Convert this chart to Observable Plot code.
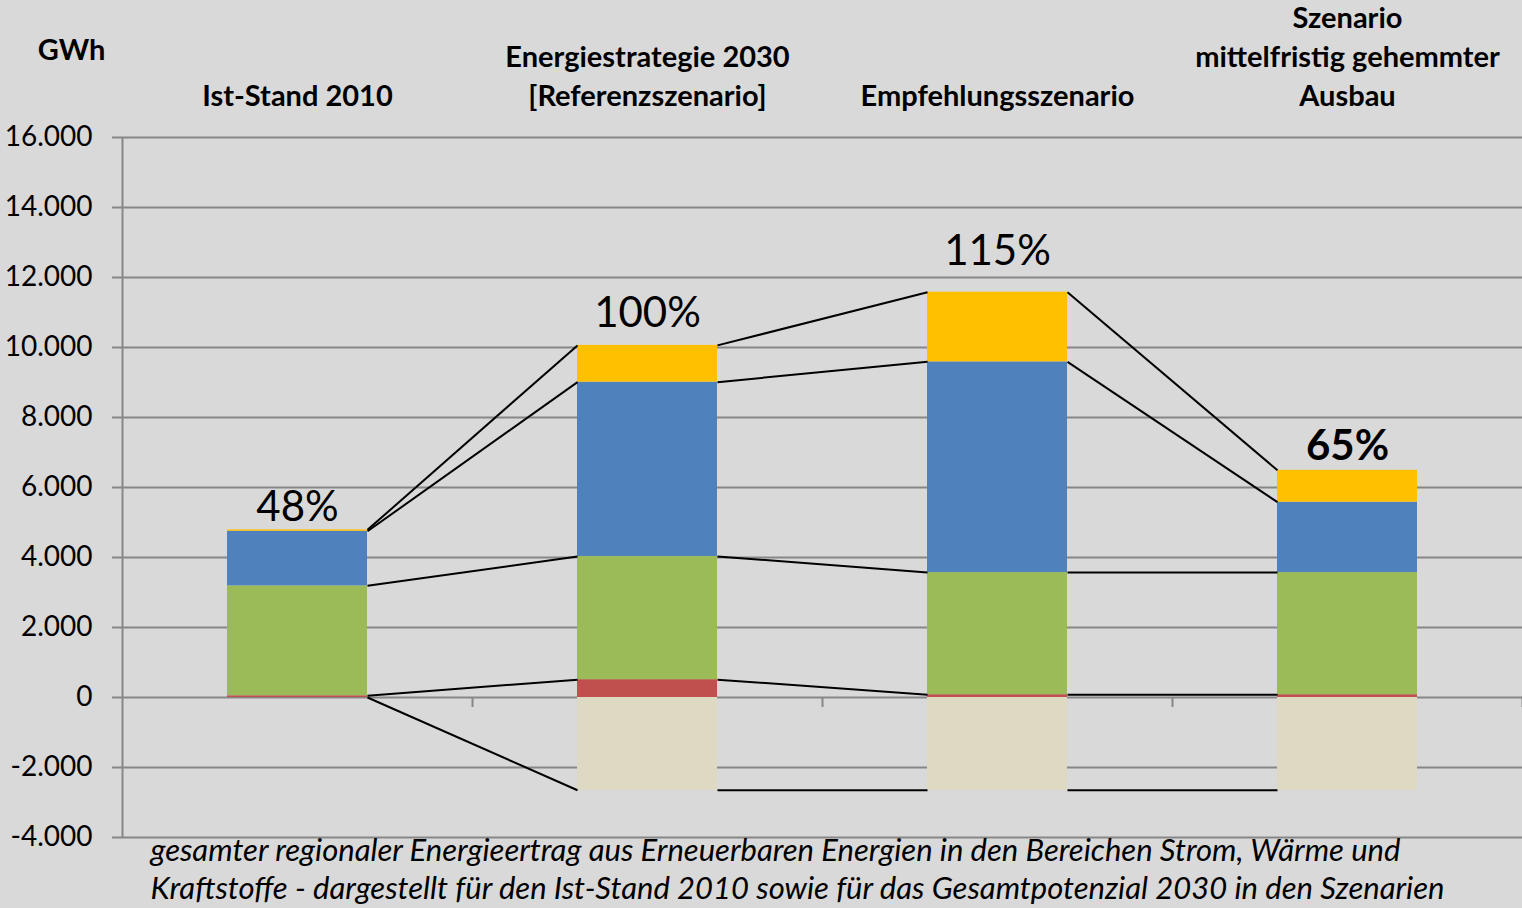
<!DOCTYPE html>
<html><head><meta charset="utf-8">
<script src="https://cdn.jsdelivr.net/npm/d3@7"></script>
<script src="https://cdn.jsdelivr.net/npm/@observablehq/plot@0.6"></script>
<style>
html,body{margin:0;padding:0;background:#d9d9d9;overflow:hidden;}
</style></head><body><div id="chart"></div>
<script>
// ---- data (GWh) ----
const categories = ["Ist-Stand 2010", "Energiestrategie 2030\n[Referenzszenario]", "Empfehlungsszenario", "Szenario\nmittelfristig gehemmter\nAusbau"];
const seriesNames = ["Rot", "Grün", "Blau", "Gelb"];
const redValues = [50, 510, 80, 80];
const greenValues = [3140, 3520, 3490, 3490];
const blueValues = [1560, 4980, 6020, 2010];
const yellowValues = [40, 1050, 1990, 910];
const negativeValues = [0, -2650, -2650, -2650];
const percentLabels = ["48%", "100%", "115%", "65%"];
const yTicks = [-4000, -2000, 0, 2000, 4000, 6000, 8000, 10000, 12000, 14000, 16000];
const unitLabel = "GWh";
const caption = "gesamter regionaler Energieertrag aus Erneuerbaren Energien in den Bereichen Strom, Wärme und\nKraftstoffe - dargestellt für den Ist-Stand 2010 sowie für das Gesamtpotenzial 2030 in den Szenarien";

// ---- styles ----
const colors = {"Rot": "#C0504D", "Grün": "#9BBB59", "Blau": "#4F81BD", "Gelb": "#FFC000", "Negativ": "#DDD9C3"};
const gridColor = "#878787";
const font = "Lato";
const half = 0.2; // half bar width in band units
const pctDy = [-9, -18, -27, -10];

// ---- build stacks ----
const positive = [redValues, greenValues, blueValues, yellowValues];
const rows = [];
const levels = categories.map(() => []);
categories.forEach((c, i) => {
  let base = 0;
  levels[i].push(negativeValues[i]);
  positive.forEach((vals, k) => {
    rows.push({i, series: seriesNames[k], y1: base, y2: base + vals[i]});
    base += vals[i];
    levels[i].push(base);
  });
  if (negativeValues[i] !== 0) rows.push({i, series: "Negativ", y1: negativeValues[i], y2: 0});
});
const links = [];
for (let i = 0; i < categories.length - 1; i++) {
  for (let k = 0; k < levels[i].length; k++) {
    links.push({x1: i + half, x2: i + 1 - half, y1: levels[i][k], y2: levels[i + 1][k]});
  }
}
const labelRows = categories.map((c, i) => ({i, c, top: levels[i][levels[i].length - 1], pct: percentLabels[i]}));

const de = d3.formatLocale({decimal: ",", thousands: ".", grouping: [3], currency: ["", " €"], minus: "-"});
const fmt = de.format(",");

const plot = Plot.plot({
  width: 1522,
  height: 908,
  marginTop: 137,
  marginBottom: 71,
  marginLeft: 122,
  marginRight: 0,
  style: {background: "#d9d9d9", fontFamily: font, color: "black"},
  x: {domain: [-0.5, 3.5], axis: null},
  y: {domain: [-4000, 16000], axis: null},
  color: {domain: [...seriesNames, "Negativ"], range: seriesNames.map(s => colors[s]).concat([colors["Negativ"]])},
  marks: [
    Plot.gridY(yTicks, {stroke: gridColor, strokeOpacity: 1, strokeWidth: 2}),
    Plot.axisY(yTicks, {tickSize: 10, tickPadding: 20, tickFormat: fmt, fontSize: 28, stroke: gridColor, strokeWidth: 2, fill: "black"}),
    Plot.ruleX([-0.5], {y1: -4000, y2: 16000, stroke: gridColor, strokeWidth: 2}),
    Plot.ruleX([0.5, 1.5, 2.5, 3.5], {y1: 0, y2: 0, insetBottom: -10, stroke: gridColor, strokeWidth: 2}),
    Plot.rect(rows, {x1: d => d.i - half, x2: d => d.i + half, y1: "y1", y2: "y2", fill: "series"}),
    Plot.link(links, {x1: "x1", x2: "x2", y1: "y1", y2: "y2", stroke: "black", strokeWidth: 2}),
    ...labelRows.map((d, i) => Plot.text([d], {x: "i", y: "top", text: "pct", lineAnchor: "bottom", dy: pctDy[i], fontSize: 42, fontWeight: i === 3 ? "bold" : "normal", fill: "black"})),
    Plot.text(labelRows, {x: "i", text: "c", frameAnchor: "top", lineAnchor: "bottom", dy: -32, fontSize: 29, fontWeight: "bold", lineHeight: 1.33, fill: "black"}),
    Plot.text([unitLabel], {frameAnchor: "top-left", dx: -51, dy: -78, lineAnchor: "bottom", textAnchor: "middle", fontSize: 29, fontWeight: "bold", fill: "black"}),
    Plot.text([caption], {frameAnchor: "bottom-left", dx: 28, dy: -4, lineAnchor: "top", textAnchor: "start", fontSize: 31, fontStyle: "italic", lineHeight: 1.23, fill: "black"})
  ]
});
document.getElementById("chart").appendChild(plot);
</script>
</body></html>
